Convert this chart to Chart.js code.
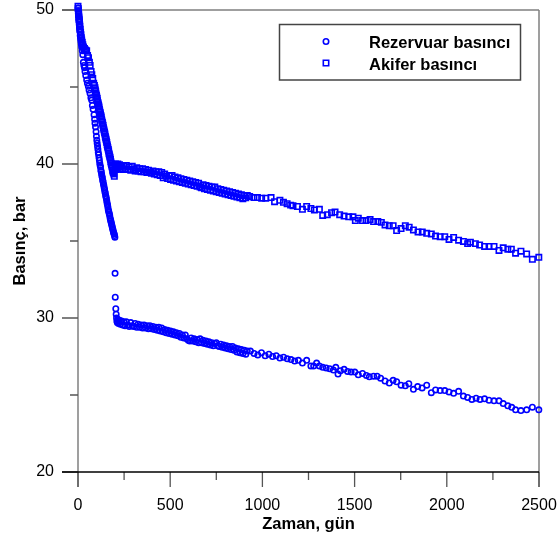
<!DOCTYPE html>
<html><head><meta charset="utf-8">
<script src="https://cdn.jsdelivr.net/npm/chart.js@4.4.0/dist/chart.umd.min.js"></script>
<style>html,body{margin:0;padding:0;background:#fff;}#wrap{position:relative;width:559px;height:537px;}</style>
</head><body><div id="wrap"><canvas id="c" width="559" height="537"></canvas></div>
<script>
const seriesNames = ['Rezervuar basıncı', 'Akifer basıncı'];
const xTitle = 'Zaman, gün';
const yTitle = 'Basınç, bar';
const xTickValues = [0, 500, 1000, 1500, 2000, 2500];
const xMinorTicks = [250, 750, 1250, 1750, 2250];
const yTickValues = [20, 30, 40, 50];
const yMinorTicks = [25, 35, 45];

// [day, bar]
const reservoirPoints = [
[0,50.3],[1,50.15],[2,49.95],[3,49.8],[4,49.6],[5,49.4],[6,49.25],[7,49.05],[8,48.9],[9,48.75],[10,48.6],[12,48.35],[14,48.15],[16,47.95],[18,47.8],[20,47.6],[23,47.35],[26,47.1],[29,46.6],[32,46.4],[35,46.25],[38,46.0],[42,45.75],[47,45.45],[51,45.25],[56,45.05],[60,44.8],[65,44.6],[70,44.3],[74,44.15],[78,43.8],[82,43.55],[87,43.2],[90,42.9],[92,42.65],[95,42.4],[98,42.1],
[100,41.8],[102,41.55],[104,41.35],[106,41.15],[108,40.95],[110,40.75],[112,40.6],[114,40.4],[116,40.25],[118,40.05],[120,39.9],[122,39.8],[124,39.6],[126,39.5],[128,39.35],[130,39.2],[132,39.1],[134,38.95],[136,38.85],[138,38.7],[140,38.6],[142,38.45],[144,38.35],[146,38.2],[148,38.1],[150,37.95],[152,37.85],[154,37.75],[156,37.6],[158,37.45],[160,37.35],[162,37.2],[164,37.05],[166,36.95],[168,36.85],[170,36.75],[172,36.65],[174,36.5],[176,36.4],[178,36.3],[180,36.2],[182,36.1],[184,36.0],[186,35.9],[188,35.8],[190,35.7],[192,35.6],[194,35.5],[196,35.45],[198,35.35],[200,35.25],
[201,32.9],[202,31.35],[205,30.6],[207,30.25],[209,30.0],[211,29.8],[213,29.7],
[216,29.9],[220,29.65],[225,29.85],[230,29.6],[236,29.8],[242,29.55],[248,29.75],[255,29.5],[262,29.75],[270,29.55],[278,29.45],[286,29.7],[294,29.5],[302,29.45],[310,29.65],[318,29.4],[326,29.6],[334,29.4],[342,29.55],[350,29.35],[358,29.55],[366,29.35],[374,29.5],[382,29.3],[390,29.5],[398,29.3],[406,29.45],[414,29.25],[422,29.4],[430,29.2],[438,29.4],[446,29.15],[454,29.35],[462,29.1],[470,29.25],[478,29.05],[486,29.2],[494,29.0],[502,29.15],[510,28.95],[518,29.1],[526,28.9],[534,29.05],[542,28.85],[550,29.0],[558,28.75],[566,28.9],[574,28.7],[582,28.9],[590,28.65],[598,28.55],[606,28.5],[614,28.7],[622,28.5],[630,28.65],[638,28.45],[646,28.6],[654,28.4],[662,28.65],[670,28.4],[678,28.55],[686,28.35],[694,28.5],[702,28.3],[710,28.45],[718,28.25],[726,28.4],[734,28.2],[742,28.35],[750,28.4],[758,28.2],[766,28.15],[774,28.3],[782,28.1],[790,28.25],[798,28.05],[806,28.2],[814,28.0],[822,28.15],[830,27.95],[838,28.15],[846,27.9],[854,28.05],[862,27.8],[870,28.0],[878,27.75],[886,27.95],[894,27.7],[902,27.9],[910,27.65],[918,27.85],
[935,27.85],[955,27.7],[975,27.6],[995,27.75],[1015,27.55],[1035,27.65],[1055,27.5],[1075,27.55],[1095,27.4],[1115,27.45],[1135,27.35],[1155,27.3],[1175,27.2],[1195,27.25],
[1217,27.07],[1240,27.25],[1263,26.89],[1278,26.89],[1294,27.07],[1309,26.89],[1327,26.8],[1346,26.76],[1365,26.71],[1385,26.62],[1398,26.8],[1410,26.36],[1423,26.58],[1443,26.67],[1462,26.53],[1481,26.49],[1501,26.49],[1520,26.31],[1543,26.4],[1564,26.27],[1580,26.18],[1603,26.22],[1622,26.22],[1641,26.09],[1665,25.91],[1688,25.78],[1709,25.95],[1728,25.86],[1752,25.64],[1775,25.6],[1794,25.73],[1819,25.37],[1842,25.55],[1866,25.46],[1891,25.64],[1916,25.15],[1939,25.33],[1964,25.29],[1989,25.29],[2012,25.2],[2037,25.11],[2064,25.24],[2090,24.93],[2113,24.84],[2136,24.71],[2159,24.79],[2180,24.71],[2205,24.75],[2229,24.66],[2256,24.62],[2283,24.62],[2306,24.44],[2331,24.3],[2352,24.2],[2373,24.04],[2402,23.99],[2433,24.04],[2464,24.21],[2499,24.04]
];

const aquiferPoints = [
[0,50.25],[1,50.1],[2,49.95],[3,49.8],[4,49.7],[5,49.55],[6,49.4],[7,49.3],[8,49.2],[9,49.05],[10,48.95],[12,48.75],[14,48.55],[16,48.4],[18,48.2],[20,48.05],[23,47.9],[26,47.75],[30,47.6],[35,47.5],[41,47.4],[47,47.35],[52,47.05],[57,46.9],[62,46.6],[66,46.4],[71,46.0],[75,45.8],[80,45.55],[85,45.25],[89,45.1],[92,44.95],
[94,44.8],[96,44.7],[98,44.55],[100,44.45],[102,44.35],[104,44.25],[106,44.1],[108,44.0],[110,43.9],[112,43.8],[114,43.7],[116,43.55],[118,43.45],[120,43.35],[122,43.25],[124,43.15],[126,43.05],[128,42.9],[130,42.8],[132,42.7],[134,42.6],[136,42.5],[138,42.35],[140,42.25],[142,42.15],[144,42.05],[146,41.95],[148,41.8],[150,41.7],[152,41.6],[154,41.5],[156,41.4],[158,41.25],[160,41.15],[162,41.05],[164,40.95],[166,40.85],[168,40.7],[170,40.6],[172,40.5],[174,40.4],[176,40.3],[178,40.15],[180,40.05],[182,39.95],[184,39.85],[186,39.75],[188,39.6],[190,39.5],[192,39.45],[194,39.35],[197,39.2],
[200,39.9],[203,40.0],[206,39.65],[209,39.95],[212,39.75],[216,40.0],[220,39.8],[225,39.95],[230,39.7],[236,39.9],[242,39.65],[248,39.85],[255,39.7],[262,39.9],[270,39.65],[278,39.8],[286,39.6],[294,39.85],[302,39.65],[310,39.55],[318,39.75],[326,39.55],[334,39.7],[342,39.5],[350,39.7],[358,39.5],[366,39.65],[374,39.45],[382,39.6],[390,39.45],[398,39.4],[406,39.55],[414,39.35],[422,39.5],[430,39.3],[438,39.5],[446,39.25],[454,39.45],[462,39.1],[470,39.35],[478,39.2],[486,39.05],[494,39.25],[502,39.0],[510,39.25],[518,38.95],[526,39.15],[534,38.9],[542,39.1],[550,38.85],[558,39.05],[566,38.8],[574,39.0],[582,38.75],[590,38.95],[598,38.7],[606,38.9],[614,38.65],[622,38.85],[630,38.6],[638,38.8],[646,38.55],[654,38.75],[662,38.5],[670,38.45],[678,38.65],[686,38.4],[694,38.6],[702,38.35],[710,38.55],[718,38.3],[726,38.5],[734,38.25],[742,38.5],[750,38.2],[758,38.4],[766,38.15],[774,38.35],[782,38.1],[790,38.3],[798,38.05],[806,38.25],[814,38.0],[822,38.2],[830,37.95],[838,38.15],[846,37.9],[854,38.1],[862,37.85],[870,38.05],[878,37.8],[886,38.0],[894,37.75],[902,37.95],[910,37.8],[918,37.95],
[931,37.89],[954,37.82],[973,37.82],[996,37.78],[1018,37.78],[1047,37.82],[1066,37.55],[1095,37.64],[1114,37.51],[1134,37.42],[1153,37.33],[1166,37.29],[1190,37.24],[1217,37.06],[1240,37.24],[1263,37.11],[1282,37.02],[1309,37.06],[1327,36.66],[1352,36.71],[1375,36.84],[1394,36.88],[1419,36.71],[1443,36.62],[1468,36.57],[1491,36.57],[1504,36.33],[1520,36.48],[1543,36.33],[1562,36.33],[1584,36.39],[1603,36.26],[1626,36.26],[1645,36.21],[1665,36.04],[1688,35.99],[1709,35.99],[1728,35.68],[1752,35.81],[1775,35.99],[1796,35.9],[1819,35.72],[1844,35.59],[1867,35.59],[1891,35.5],[1916,35.46],[1939,35.32],[1964,35.28],[1989,35.28],[2012,35.1],[2037,35.23],[2064,35.05],[2090,34.97],[2113,34.83],[2128,34.92],[2155,34.83],[2178,34.74],[2205,34.65],[2229,34.65],[2256,34.65],[2283,34.39],[2306,34.56],[2331,34.47],[2350,34.47],[2373,34.21],[2402,34.34],[2433,34.16],[2464,33.81],[2499,33.94]
];

const FONT = "'Liberation Sans', Arial, sans-serif";
const BLUE = '#0000ff';
const toXY = a => a.map(p => ({x: p[0], y: p[1]}));
const noPad = s => { s.paddingLeft = 0; s.paddingRight = 0; s.paddingTop = 0; s.paddingBottom = 0; };

const framePlugin = {
  id: 'frame',
  beforeDatasetsDraw(chart) {
    const {ctx, chartArea: a, scales: {x, y}} = chart;
    ctx.save();
    ctx.lineCap = 'butt';
    ctx.strokeStyle = '#808080';
    ctx.lineWidth = 1.5;
    ctx.beginPath();
    ctx.moveTo(a.left - 16, a.top); ctx.lineTo(a.right, a.top);
    ctx.moveTo(a.right, a.top); ctx.lineTo(a.right, a.bottom + 15);
    ctx.moveTo(a.left, a.top); ctx.lineTo(a.left, a.bottom + 15);
    ctx.stroke();
    ctx.strokeStyle = '#555';
    ctx.lineWidth = 1.3;
    ctx.beginPath();
    yTickValues.forEach(v => { const p = y.getPixelForValue(v); ctx.moveTo(a.left - 16, p); ctx.lineTo(a.left, p); });
    yMinorTicks.forEach(v => { const p = y.getPixelForValue(v); ctx.moveTo(a.left - 8, p); ctx.lineTo(a.left, p); });
    xTickValues.forEach(v => { const p = x.getPixelForValue(v); ctx.moveTo(p, a.bottom); ctx.lineTo(p, a.bottom + 15); });
    xMinorTicks.forEach(v => { const p = x.getPixelForValue(v); ctx.moveTo(p, a.bottom); ctx.lineTo(p, a.bottom + 8); });
    ctx.stroke();
    ctx.strokeStyle = '#000';
    ctx.lineWidth = 1.3;
    ctx.beginPath();
    ctx.moveTo(a.left - 16, a.bottom); ctx.lineTo(a.right, a.bottom);
    ctx.stroke();
    ctx.restore();
  }
};

const legendPlugin = {
  id: 'boxLegend',
  afterDatasetsDraw(chart) {
    const ctx = chart.ctx;
    ctx.save();
    ctx.fillStyle = '#fff';
    ctx.fillRect(279.5, 24.5, 241, 55.5);
    ctx.strokeStyle = '#444';
    ctx.lineWidth = 1.5;
    ctx.strokeRect(279.5, 24.5, 241, 55.5);
    chart.data.datasets.forEach((ds, i) => {
      const yy = 41.5 + i * 21.5;
      ctx.fillStyle = 'rgba(0,0,0,0)';
      ctx.strokeStyle = ds.borderColor;
      ctx.lineWidth = ds.borderWidth;
      Chart.helpers.drawPoint(ctx, {pointStyle: ds.pointStyle, radius: ds.pointRadius, borderWidth: ds.borderWidth, rotation: 0}, 326, yy);
      ctx.fillStyle = '#000';
      ctx.font = 'bold 16.5px ' + FONT;
      ctx.textAlign = 'left';
      ctx.textBaseline = 'alphabetic';
      ctx.fillText(ds.label, 369, yy + 6.5);
    });
    ctx.restore();
  }
};

new Chart(document.getElementById('c').getContext('2d'), {
  type: 'scatter',
  data: {
    datasets: [
      {label: seriesNames[0], data: toXY(reservoirPoints), pointStyle: 'circle', pointRadius: 2.7, pointHoverRadius: 2.7,
       borderColor: BLUE, backgroundColor: 'rgba(0,0,0,0)', borderWidth: 1.6, clip: false},
      {label: seriesNames[1], data: toXY(aquiferPoints), pointStyle: 'rect', pointRadius: 3.8, pointHoverRadius: 3.8,
       borderColor: BLUE, backgroundColor: 'rgba(0,0,0,0)', borderWidth: 1.6, clip: false}
    ]
  },
  options: {
    responsive: false, animation: false, devicePixelRatio: 1, events: [],
    layout: {padding: {left: 0, right: 20, top: 10, bottom: 0}},
    plugins: {legend: {display: false}, tooltip: {enabled: false}},
    scales: {
      x: {
        type: 'linear', min: 0, max: 2500,
        afterBuildTicks: s => { s.ticks = xTickValues.map(v => ({value: v})); },
        afterFit: s => { s.height = 65; noPad(s); },
        grid: {display: false, drawTicks: false}, border: {display: false},
        ticks: {padding: 24, color: '#000', autoSkip: false, maxRotation: 0, font: {family: FONT, size: 16}, callback: v => String(v)},
        title: {display: true, text: xTitle, color: '#000', font: {family: FONT, size: 16.5, weight: 'bold'}, padding: {top: 0, bottom: 3}}
      },
      y: {
        type: 'linear', min: 20, max: 50,
        afterBuildTicks: s => { s.ticks = yTickValues.map(v => ({value: v})); },
        afterFit: s => { s.width = 78; noPad(s); },
        grid: {display: false, drawTicks: false}, border: {display: false},
        ticks: {padding: 24, color: '#000', autoSkip: false, font: {family: FONT, size: 16}, callback: v => String(v)},
        title: {display: true, text: yTitle, color: '#000', font: {family: FONT, size: 16.5, weight: 'bold'}, padding: {top: 11, bottom: 0}}
      }
    }
  },
  plugins: [framePlugin, legendPlugin]
});
</script>
</body></html>
